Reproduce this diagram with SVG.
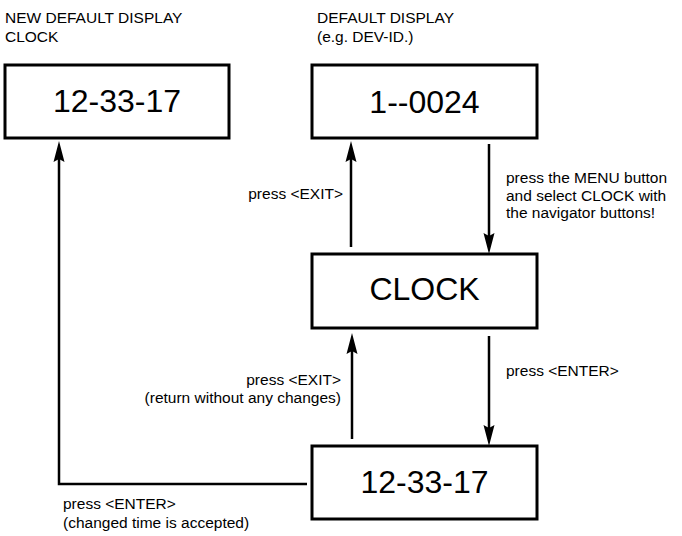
<svg xmlns="http://www.w3.org/2000/svg" width="682" height="536" viewBox="0 0 682 536">
  <style>
    .box { fill: #ffffff; stroke: #000000; stroke-width: 3; }
    .big { font-family: "Liberation Sans", Arial, sans-serif; font-size: 32px; fill: #000; text-anchor: middle; }
    .lbl { font-family: "Liberation Sans", Arial, sans-serif; font-size: 15.5px; fill: #000; }
    .end { text-anchor: end; }
    .conn { fill: none; stroke: #000; stroke-width: 2.5; }
  </style>
  <defs>
    <marker id="arrow" markerUnits="userSpaceOnUse" markerWidth="22" markerHeight="12" viewBox="0 0 22 12" refX="10" refY="6" orient="auto">
      <path d="M0,0.5 L21,6 L0,11.5 L3,6 Z" fill="#000"/>
    </marker>
  </defs>
  <rect width="682" height="536" fill="#ffffff"/>

  <g id="label-new-default">
    <text class="lbl" x="5" y="23">NEW DEFAULT DISPLAY</text>
    <text class="lbl" x="5" y="41.5">CLOCK</text>
  </g>
  <g id="label-default">
    <text class="lbl" x="317" y="23">DEFAULT DISPLAY</text>
    <text class="lbl" x="317" y="41.5">(e.g. DEV-ID.)</text>
  </g>

  <g id="node-new-clock">
    <rect class="box" x="5" y="65" width="224" height="73"/>
    <text class="big" x="117" y="112">12-33-17</text>
  </g>
  <g id="node-default">
    <rect class="box" x="312" y="65" width="225" height="73"/>
    <text class="big" x="424.5" y="113">1--0024</text>
  </g>
  <g id="node-clock">
    <rect class="box" x="312" y="254" width="225" height="74"/>
    <text class="big" x="424.5" y="300">CLOCK</text>
  </g>
  <g id="node-time">
    <rect class="box" x="312" y="446" width="225" height="73"/>
    <text class="big" x="424.5" y="493">12-33-17</text>
  </g>

  <g id="connectors">
    <line class="conn" x1="351" y1="247" x2="351" y2="152" marker-end="url(#arrow)"/>
    <line class="conn" x1="489" y1="144" x2="489" y2="243" marker-end="url(#arrow)"/>
    <line class="conn" x1="352" y1="439" x2="352" y2="344" marker-end="url(#arrow)"/>
    <line class="conn" x1="489" y1="336" x2="489" y2="435" marker-end="url(#arrow)"/>
    <polyline class="conn" points="307,484 59,484 59,152" marker-end="url(#arrow)"/>
  </g>

  <g id="connector-labels">
    <text class="lbl end" x="343" y="199">press &lt;EXIT&gt;</text>
    <text class="lbl" x="506" y="183">press the MENU button</text>
    <text class="lbl" x="506" y="200.5">and select CLOCK with</text>
    <text class="lbl" x="506" y="218">the navigator buttons!</text>
    <text class="lbl" x="506" y="376">press &lt;ENTER&gt;</text>
    <text class="lbl end" x="341" y="384.5">press &lt;EXIT&gt;</text>
    <text class="lbl end" x="341" y="403">(return without any changes)</text>
    <text class="lbl" x="63" y="509">press &lt;ENTER&gt;</text>
    <text class="lbl" x="63" y="528">(changed time is accepted)</text>
  </g>
</svg>
